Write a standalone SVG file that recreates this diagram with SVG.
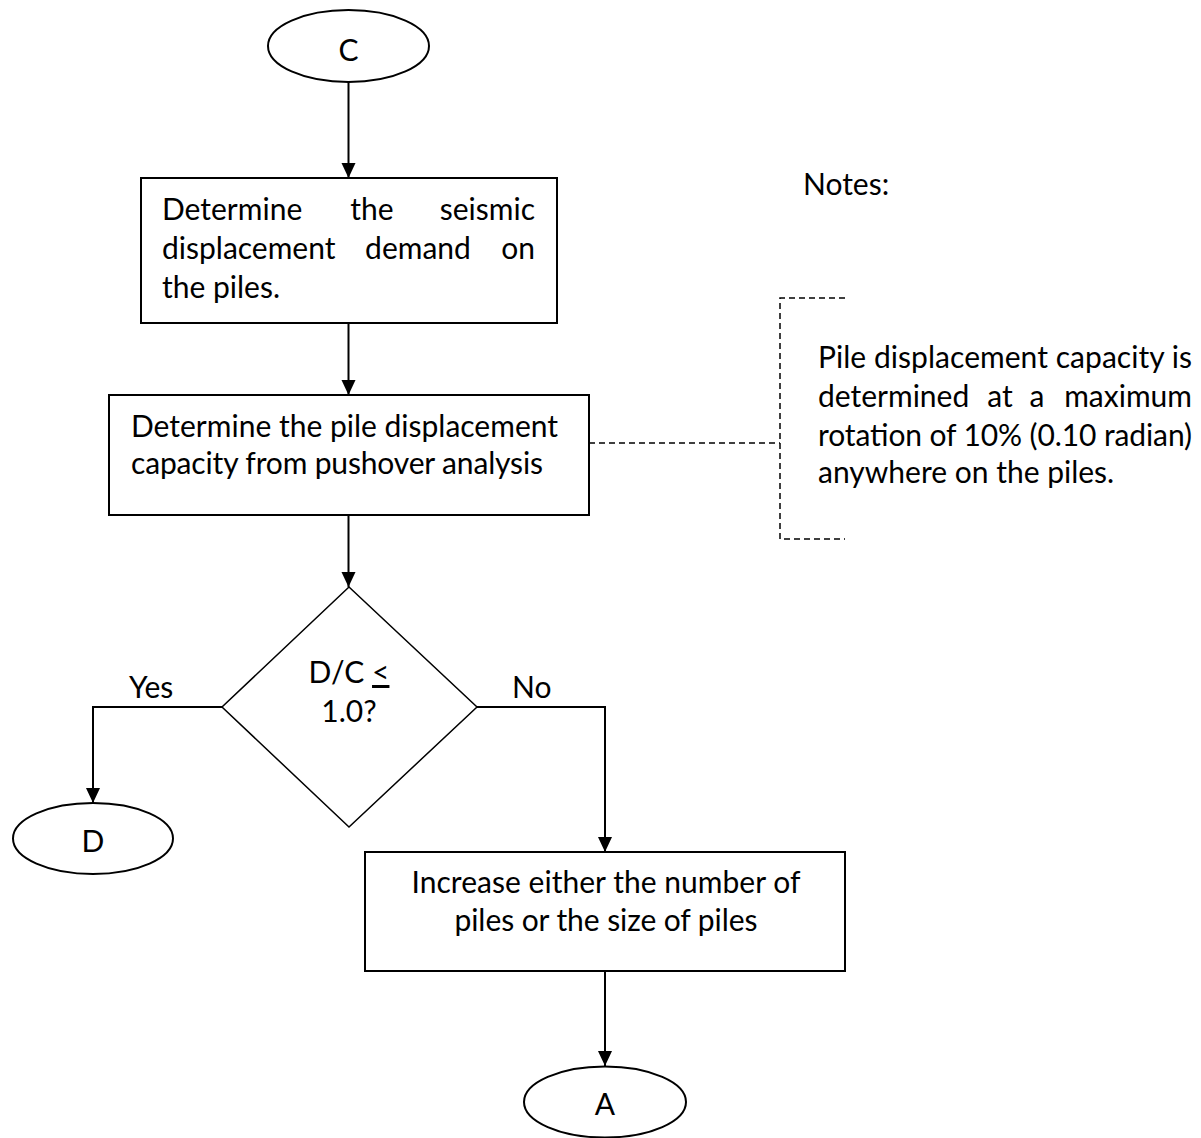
<svg xmlns="http://www.w3.org/2000/svg" width="1201" height="1138" viewBox="0 0 1201 1138">
<style>
.t{font-family:Lato,"Open Sans","Liberation Sans",sans-serif;font-size:30px;fill:#000}
.s{fill:#fff;stroke:#000;stroke-width:2}
.c{fill:none;stroke:#000;stroke-width:2}
.d{fill:none;stroke:#000;stroke-width:1.5;stroke-dasharray:6 4}
</style>
<defs>
<marker id="ah" markerWidth="14" markerHeight="16" refX="15" refY="7" orient="auto" markerUnits="userSpaceOnUse">
<path d="M0,0 L15,7 L0,14 Z" fill="#000"/>
</marker>
</defs>
<rect width="1201" height="1138" fill="#fff"/>
<g id="connectors">
<line class="c" x1="348.5" y1="82" x2="348.5" y2="178" marker-end="url(#ah)"/>
<line class="c" x1="348.5" y1="323" x2="348.5" y2="395" marker-end="url(#ah)"/>
<line class="c" x1="348.5" y1="515" x2="348.5" y2="587" marker-end="url(#ah)"/>
<polyline class="c" points="222,707 93,707 93,803" marker-end="url(#ah)"/>
<polyline class="c" points="477,707 605,707 605,852" marker-end="url(#ah)"/>
<line class="c" x1="605" y1="971" x2="605" y2="1066" marker-end="url(#ah)"/>
<line class="d" x1="589" y1="443" x2="780" y2="443"/>
<polyline class="d" points="845,298 780,298 780,539 845,539"/>
<text class="t" x="129" y="698">Yes</text>
<text class="t" x="512" y="698">No</text>
</g>
<g id="start-c">
<ellipse class="s" cx="348.5" cy="46" rx="80.5" ry="36"/>
<text class="t" x="348.5" y="61" text-anchor="middle">C</text>
</g>
<g id="box-demand">
<rect class="s" x="141" y="178" width="416" height="145"/>
<text class="t" y="220"><tspan x="162">Determine</tspan><tspan x="372" text-anchor="middle">the</tspan><tspan x="535" text-anchor="end">seismic</tspan></text>
<text class="t" y="259"><tspan x="162">displacement</tspan><tspan x="418" text-anchor="middle">demand</tspan><tspan x="535" text-anchor="end">on</tspan></text>
<text class="t" x="162" y="298">the piles.</text>
</g>
<g id="box-capacity">
<rect class="s" x="109" y="395" width="480" height="120"/>
<text class="t" x="131" y="437" textLength="427" lengthAdjust="spacing">Determine the pile displacement</text>
<text class="t" x="131" y="474" textLength="412" lengthAdjust="spacing">capacity from pushover analysis</text>
</g>
<g id="notes">
<text class="t" x="803" y="195">Notes:</text>
<text class="t" x="818" y="368" textLength="374" lengthAdjust="spacing">Pile displacement capacity is</text>
<text class="t" y="407"><tspan x="818">determined</tspan><tspan x="1000" text-anchor="middle">at</tspan><tspan x="1037" text-anchor="middle">a</tspan><tspan x="1192" text-anchor="end">maximum</tspan></text>
<text class="t" x="818" y="446" textLength="374" lengthAdjust="spacing">rotation of 10% (0.10 radian)</text>
<text class="t" x="818" y="483">anywhere on the piles.</text>
</g>
<g id="decision">
<polygon points="349,587 477,707 349,827 222,707" fill="#fff" stroke="#000" stroke-width="1.5"/>
<text class="t" x="349" y="683" text-anchor="middle">D/C <tspan text-decoration="underline">&lt;</tspan></text>
<text class="t" x="349" y="722" text-anchor="middle">1.0?</text>
</g>
<g id="end-d">
<ellipse class="s" cx="93" cy="838.5" rx="80" ry="35.5"/>
<text class="t" x="93" y="852" text-anchor="middle">D</text>
</g>
<g id="box-increase">
<rect class="s" x="365" y="852" width="480" height="119"/>
<text class="t" x="606" y="893" text-anchor="middle" textLength="389" lengthAdjust="spacing">Increase either the number of</text>
<text class="t" x="606" y="931" text-anchor="middle" textLength="303" lengthAdjust="spacing">piles or the size of piles</text>
</g>
<g id="end-a">
<ellipse class="s" cx="605" cy="1102" rx="81" ry="35.5"/>
<text class="t" x="605" y="1115" text-anchor="middle">A</text>
</g>
</svg>
